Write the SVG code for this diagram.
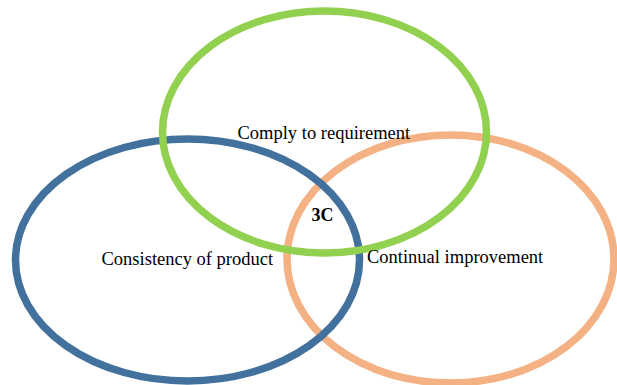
<svg xmlns="http://www.w3.org/2000/svg" width="617" height="385" viewBox="0 0 617 385">
<style>
.ring{fill:none;stroke-width:7.5}
.lbl{font-family:"Liberation Serif","Times New Roman",serif;font-size:18.5px;fill:#000}
.bold{font-weight:bold;font-size:18px}
</style>
<rect width="617" height="385" fill="#fff"/>
<g id="continual">
<ellipse class="ring" cx="450.5" cy="259" rx="163.5" ry="124" stroke="#F4B183"/>
</g>
<g id="consistency">
<ellipse class="ring" cx="187.5" cy="260" rx="172" ry="121" stroke="#41719C"/>
</g>
<g id="comply">
<ellipse class="ring" cx="324.5" cy="132" rx="162" ry="121" stroke="#92D050"/>
</g>
<g id="connectors"></g>
<g id="labels">
<text class="lbl" x="237.5" y="139">Comply to requirement</text>
<text class="lbl" x="101.5" y="265">Consistency of product</text>
<text class="lbl" x="367" y="263">Continual improvement</text>
<text class="lbl bold" x="311.5" y="221">3C</text>
</g>
</svg>
